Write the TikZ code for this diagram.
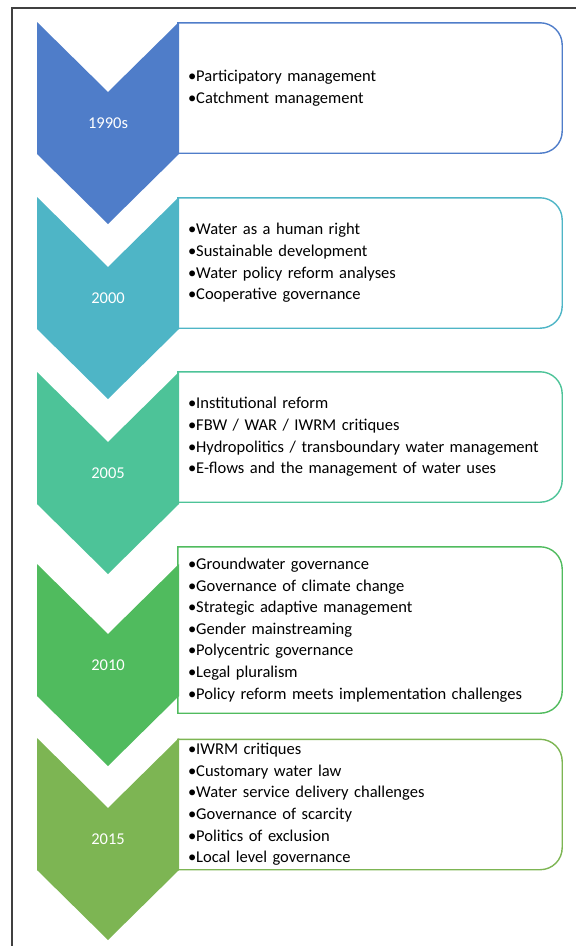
\documentclass[tikz,border=0pt]{standalone}
\usepackage{fontspec}
\setmainfont{Carlito}
\usepackage{tikz}
\usetikzlibrary{calc}

\definecolor{ChevA}{RGB}{79,125,201}
\definecolor{ChevB}{RGB}{78,181,198}
\definecolor{ChevC}{RGB}{77,195,152}
\definecolor{ChevD}{RGB}{80,187,94}
\definecolor{ChevE}{RGB}{125,181,83}

\newcommand{\ListBox}[2]{%
  \draw[BoxStyle, #2] (#1.north west) -- ([xshift=-22pt]#1.north east)
    arc[start angle=90, end angle=0, radius=22pt] -- ([yshift=22pt]#1.south east)
    arc[start angle=0, end angle=-90, radius=22pt] -- (#1.south west) -- cycle;}

\begin{document}
\begin{tikzpicture}[x=1pt, y=-1pt]
  \tikzstyle{every node} = [inner sep = 0pt,
                            font = \fontsize{16.5}{21.6}\selectfont]
  \tikzstyle{YearStyle} = [text = white]
  \tikzstyle{ListStyle} = [minimum height = 130pt,
                           text width = 364pt,
                           inner xsep = 10pt,
                           align = left]
  \tikzstyle{BoxStyle} = [line width = 1.4pt]

\useasboundingbox (0,0) rectangle (576,946);
\draw[black!75, line width = 1.2pt] (12,946) -- (12,8) -- (576,8);

\node[ListStyle] (B1990) at (370,88) {\textbullet Participatory management\\
  \textbullet Catchment management};
\node[ListStyle] (B2000) at (370,263) {\textbullet Water as a human right\\
  \textbullet Sustainable development\\
  \textbullet Water policy reform analyses\\
  \textbullet Cooperative governance};
\node[ListStyle] (B2005) at (370,437) {\textbullet Institutional reform\\
  \textbullet FBW / WAR / IWRM critiques\\
  \textbullet Hydropolitics / transboundary water management\\
  \textbullet E-flows and the management of water uses};
\node[ListStyle, minimum height = 166pt] (B2010) at (370,630) {\textbullet Groundwater governance\\
  \textbullet Governance of climate change\\
  \textbullet Strategic adaptive management\\
  \textbullet Gender mainstreaming\\
  \textbullet Polycentric governance\\
  \textbullet Legal pluralism\\
  \textbullet Policy reform meets implementation challenges};
\node[ListStyle] (B2015) at (370,804.5) {\textbullet IWRM critiques\\
  \textbullet Customary water law\\
  \textbullet Water service delivery challenges\\
  \textbullet Governance of scarcity\\
  \textbullet Politics of exclusion\\
  \textbullet Local level governance};

\ListBox{B1990}{ChevA}
\ListBox{B2000}{ChevB}
\ListBox{B2005}{ChevC}
\ListBox{B2010}{ChevD}
\ListBox{B2015}{ChevE}

% chevrons
\fill[ChevA] (37,22) -- ++(71,70) -- ++(71,-70) -- ++(0,132) -- ++(-71,70) -- ++(-71,-70) -- cycle;
\fill[ChevB] (37,197) -- ++(71,70) -- ++(71,-70) -- ++(0,132) -- ++(-71,70) -- ++(-71,-70) -- cycle;
\fill[ChevC] (37,372) -- ++(71,70) -- ++(71,-70) -- ++(0,132) -- ++(-71,70) -- ++(-71,-70) -- cycle;
\fill[ChevD] (37,564) -- ++(71,70) -- ++(71,-70) -- ++(0,132) -- ++(-71,70) -- ++(-71,-70) -- cycle;
\fill[ChevE] (37,738) -- ++(71,70) -- ++(71,-70) -- ++(0,132) -- ++(-71,70) -- ++(-71,-70) -- cycle;

\node[YearStyle] (Y1990) at (108,123) {1990s};
\node[YearStyle] (Y2000) at (108,298) {2000};
\node[YearStyle] (Y2005) at (108,473) {2005};
\node[YearStyle] (Y2010) at (108,665) {2010};
\node[YearStyle] (Y2015) at (108,839) {2015};

\end{tikzpicture}
\end{document}
